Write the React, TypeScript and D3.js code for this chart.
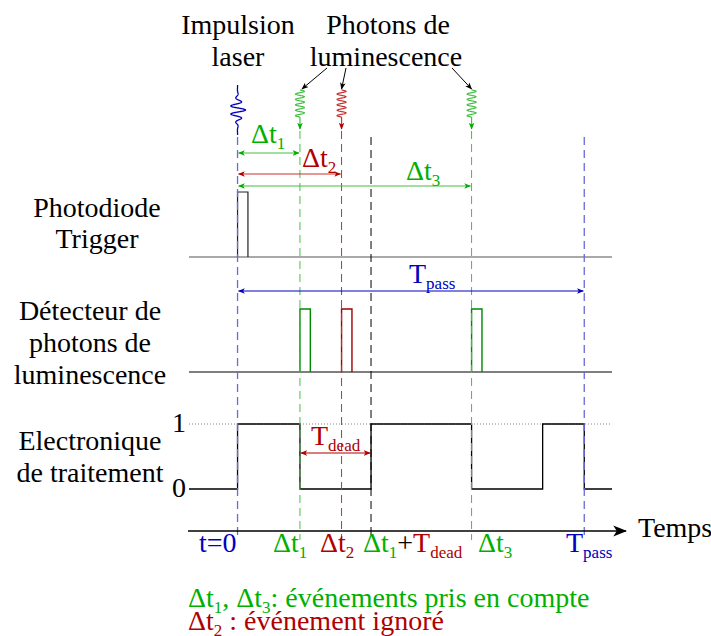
import React from "react";
import * as d3 from "d3";

// ---- data ----
const eventLabels = ["1", "2", "3"];
const eventTimes = [18, 30, 67.5];
const eventAccepted = [true, false, true];
const tDead = 20.5;
const tPass = 100;
const pulseWidth = 3;
const timeDomain = [-14, 108];
const axisEnd = 112;
const channelLabels = [
  ["Photodiode", "Trigger"],
  ["Détecteur de", "photons de", "luminescence"],
  ["Electronique", "de traitement"],
];
const levelTicks = ["0", "1"];

const W = 711, H = 636;
const GREEN = "#00b000", GREEN_L = "#44c044", RED = "#b00000", RED_L = "#c83030", BLUE = "#0000c0", BLUE_L = "#6a6ad8";
const FONT = "'Liberation Serif', 'Times New Roman', serif";
const FS = 28;
const SUB = 17;

const x = d3.scaleLinear().domain(timeDomain).range([189, 612]);
const yTrig = d3.scaleLinear().domain([0, 1]).range([257, 192]);
const yDet = d3.scaleLinear().domain([0, 1]).range([372, 309]);
const yEl = d3.scaleLinear().domain([0, 1]).range([489, 424]);

function pulseSeries(t0: number) {
  return [
    [t0, 0], [t0, 1], [t0 + pulseWidth, 1], [t0 + pulseWidth, 0],
  ];
}

// electronics: armed (1) at t=0, accepted event -> 0 during dead time, 0 at tPass
function electronicsSeries() {
  const pts: [number, number][] = [[timeDomain[0], 0], [0, 0], [0, 1]];
  eventTimes.forEach((t, i) => {
    if (!eventAccepted[i]) return;
    pts.push([t, 1], [t, 0], [t + tDead, 0], [t + tDead, 1]);
  });
  pts.push([tPass, 1], [tPass, 0], [timeDomain[1], 0]);
  return pts;
}

const line = (ys: d3.ScaleLinear<number, number>) =>
  d3.line<number[]>().x((d) => x(d[0])).y((d) => ys(d[1]));

function squiggle(cx: number, y0: number, y1: number, amp: number, cycles: number) {
  const n = 160;
  const pts = d3.range(n + 1).map((i) => {
    const s = i / n;
    return [cx + amp * Math.sin(2 * Math.PI * cycles * s), y0 + s * (y1 - y0)] as [number, number];
  });
  return d3.line()(pts) as string;
}

function packet(cx: number, y0: number, y1: number, amp: number) {
  const n = 300;
  const pts = d3.range(n + 1).map((i) => {
    const s = i / n;
    const env = Math.exp(-Math.pow((s - 0.5) / 0.2, 2));
    return [cx + amp * env * Math.cos(2 * Math.PI * 6 * (s - 0.5)), y0 + s * (y1 - y0)] as [number, number];
  });
  return d3.line()(pts) as string;
}

function Marker({ id, color, size = 7 }: { id: string; color: string; size?: number }) {
  return (
    <marker id={id} viewBox="0 0 10 10" refX="9" refY="5" markerWidth={size} markerHeight={size}
      markerUnits="userSpaceOnUse" orient="auto-start-reverse">
      <path d="M0,1 L10,5 L0,9 L2.5,5 Z" fill={color} />
    </marker>
  );
}

type Seg = { t: string; c: string; sub?: boolean };
function Rich({ x: tx, y: ty, segs, size = FS, anchor }: { x: number; y: number; segs: Seg[]; size?: number; anchor?: string }) {
  let shifted = false;
  return (
    <text x={tx} y={ty} fontSize={size} textAnchor={anchor}>
      {segs.map((s, i) => {
        let dy = 0;
        if (s.sub && !shifted) { dy = 6; shifted = true; }
        else if (!s.sub && shifted) { dy = -6; shifted = false; }
        return (
          <tspan key={i} fill={s.c} dy={dy || undefined} fontSize={s.sub ? SUB : undefined}>{s.t}</tspan>
        );
      })}
    </text>
  );
}

export default function App() {
  const evColor = (i: number) => (eventAccepted[i] ? GREEN : RED);
  const evColorL = (i: number) => (eventAccepted[i] ? GREEN_L : RED_L);
  const evPulseColor = (i: number) => (eventAccepted[i] ? "#008800" : "#a00000");
  const deltaArrowY = [153, 174, 186];
  const deltaLabelPos = [[251, 143], [302, 167], [406, 180]];
  const textArrowFrom = [[327, 68], [346, 68], [452, 68]];
  const elec = electronicsSeries();
  const acceptedFirst = eventTimes[eventAccepted.indexOf(true)];

  return (
    <svg width={W} height={H} style={{ display: "block", position: "absolute", left: 0, top: 0, fontFamily: FONT }}
      fontFamily={FONT}>
      <defs>
        <Marker id="mk" color="#000" size={7} />
        <Marker id="mkAxis" color="#000" size={14} />
        <Marker id="mkG" color={GREEN} />
        <Marker id="mkR" color={RED} />
        <Marker id="mkB" color={BLUE} />
      </defs>

      {/* top titles */}
      <g fontSize={FS} textAnchor="middle" fill="#000">
        <text x={238} y={34}>Impulsion</text>
        <text x={238} y={66}>laser</text>
        <text x={388} y={34}>Photons de</text>
        <text x={386} y={66}>luminescence</text>
      </g>

      {/* arrows from text to photons */}
      {eventTimes.map((t, i) => (
        <line key={"ta" + i} x1={textArrowFrom[i][0]} y1={textArrowFrom[i][1]} x2={x(t) + (i === 0 ? 2 : 0)} y2={89}
          stroke="#000" strokeWidth={1} markerEnd="url(#mk)" />
      ))}

      {/* laser packet */}
      <path d={packet(x(0), 85, 135, 8)} fill="none" stroke={BLUE} strokeWidth={1.3} />

      {/* photon squiggles */}
      {eventTimes.map((t, i) => (
        <g key={"sq" + i}>
          <path d={squiggle(x(t), 90, 117, 4.5, 5)} fill="none" stroke={evColorL(i)} strokeWidth={1.2} />
          <line x1={x(t)} y1={117} x2={x(t)} y2={129} stroke={evColorL(i)} strokeWidth={1.2}
            markerEnd={eventAccepted[i] ? "url(#mkG)" : "url(#mkR)"} />
        </g>
      ))}

      {/* left labels */}
      <g fontSize={FS} textAnchor="middle" fill="#000">
        {channelLabels[0].map((s, i) => <text key={s} x={97} y={217 + i * 31}>{s}</text>)}
        {channelLabels[1].map((s, i) => <text key={s} x={90} y={320 + i * 32}>{s}</text>)}
        {channelLabels[2].map((s, i) => <text key={s} x={90} y={450 + i * 32}>{s}</text>)}
      </g>
      <g fontSize={FS} textAnchor="end" fill="#000">
        <text x={186} y={yEl(1) + 8}>{levelTicks[1]}</text>
        <text x={186} y={yEl(0) + 8}>{levelTicks[0]}</text>
      </g>

      {/* trigger channel */}
      <line x1={x(timeDomain[0])} x2={x(timeDomain[1])} y1={yTrig(0)} y2={yTrig(0)} stroke="#555" strokeWidth={1.2} />
      <path d={line(yTrig)(pulseSeries(0)) as string} fill="none" stroke="#222" strokeWidth={1.2} />

      {/* detector channel */}
      <line x1={x(timeDomain[0])} x2={x(timeDomain[1])} y1={yDet(0)} y2={yDet(0)} stroke="#555" strokeWidth={1.3} />
      {eventTimes.map((t, i) => (
        <path key={"p" + i} d={line(yDet)(pulseSeries(t)) as string} fill="none" stroke={evPulseColor(i)} strokeWidth={1.4} />
      ))}

      {/* electronics */}
      <line x1={x(timeDomain[0])} x2={x(timeDomain[1])} y1={yEl(1)} y2={yEl(1)} stroke="#888" strokeWidth={1} strokeDasharray="1,2" />
      <path d={line(yEl)(elec) as string} fill="none" stroke="#000" strokeWidth={1.3} />

      {/* dashed verticals */}
      <line x1={x(0)} x2={x(0)} y1={137} y2={540} stroke={BLUE_L} strokeWidth={1.3} strokeDasharray="8,5" />
      <line x1={x(tPass)} x2={x(tPass)} y1={137} y2={540} stroke={BLUE_L} strokeWidth={1.3} strokeDasharray="8,5" />
      {eventTimes.map((t, i) => (
        <line key={"dv" + i} x1={x(t)} x2={x(t)} y1={131} y2={540} stroke={evColorL(i)} strokeWidth={1} strokeDasharray="8,5" />
      ))}
      <line x1={x(acceptedFirst + tDead)} x2={x(acceptedFirst + tDead)} y1={137} y2={540} stroke="#000" strokeWidth={1} strokeDasharray="8,5" />

      {/* delta arrows */}
      {eventTimes.map((t, i) => (
        <g key={"da" + i}>
          <line x1={x(0) + 1} x2={x(t) - 1} y1={deltaArrowY[i]} y2={deltaArrowY[i]} stroke={evColorL(i)} strokeWidth={1.2}
            markerStart={eventAccepted[i] ? "url(#mkG)" : "url(#mkR)"} markerEnd={eventAccepted[i] ? "url(#mkG)" : "url(#mkR)"} />
          <Rich x={deltaLabelPos[i][0]} y={deltaLabelPos[i][1]}
            segs={[{ t: "Δt", c: evColor(i) }, { t: eventLabels[i], c: evColor(i), sub: true }]} />
        </g>
      ))}

      {/* Tpass arrow */}
      <line x1={x(0) + 1} x2={x(tPass) - 1} y1={291} y2={291} stroke={BLUE} strokeWidth={1} markerStart="url(#mkB)" markerEnd="url(#mkB)" />
      <Rich x={409} y={283} segs={[{ t: "T", c: BLUE }, { t: "pass", c: BLUE, sub: true }]} />

      {/* Tdead arrow */}
      <line x1={x(acceptedFirst) + 1} x2={x(acceptedFirst + tDead) - 1} y1={453} y2={453} stroke={RED} strokeWidth={1.2}
        markerStart="url(#mkR)" markerEnd="url(#mkR)" />
      <Rich x={311} y={445} segs={[{ t: "T", c: RED }, { t: "dead", c: RED, sub: true }]} />

      {/* time axis */}
      <line x1={188} x2={x(axisEnd)} y1={531} y2={531} stroke="#000" strokeWidth={1.3} markerEnd="url(#mkAxis)" />
      <text x={638} y={537} fontSize={FS} fill="#000">Temps</text>

      {/* axis labels */}
      <text x={x(0) - 1} y={552} fontSize={FS} textAnchor="end" fill={BLUE}>t=0</text>
      <Rich x={273} y={552} segs={[{ t: "Δt", c: GREEN }, { t: "1", c: GREEN, sub: true }]} />
      <Rich x={320} y={552} segs={[{ t: "Δt", c: RED }, { t: "2", c: RED, sub: true }]} />
      <Rich x={363} y={552} segs={[
        { t: "Δt", c: GREEN }, { t: "1", c: GREEN, sub: true }, { t: "+", c: "#000" },
        { t: "T", c: RED }, { t: "dead", c: RED, sub: true }]} />
      <Rich x={478} y={552} segs={[{ t: "Δt", c: GREEN }, { t: "3", c: GREEN, sub: true }]} />
      <Rich x={566} y={552} segs={[{ t: "T", c: BLUE }, { t: "pass", c: BLUE, sub: true }]} />

      {/* legend */}
      <Rich x={188} y={607} segs={[
        { t: "Δt", c: GREEN }, { t: "1", c: GREEN, sub: true }, { t: ", Δt", c: GREEN },
        { t: "3", c: GREEN, sub: true }, { t: ": événements pris en compte", c: GREEN }]} />
      <Rich x={188} y={630} segs={[
        { t: "Δt", c: RED }, { t: "2", c: RED, sub: true }, { t: " : événement ignoré", c: RED }]} />
    </svg>
  );
}
